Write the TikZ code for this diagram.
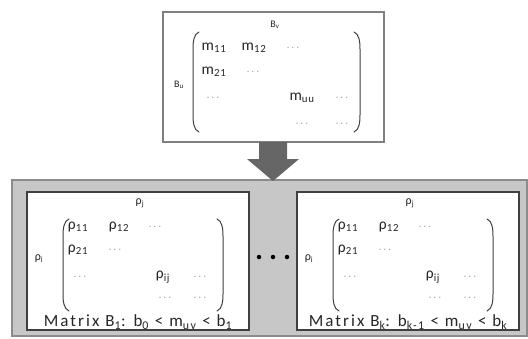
\documentclass[tikz,border=0pt]{standalone}
\usepackage{fontspec}
\setmainfont{Carlito}
\newfontfamily\widefont[LetterSpace=6]{Carlito}
\newfontfamily\capfont[LetterSpace=12]{Carlito}
\usetikzlibrary{calc}

\begin{document}
\begin{tikzpicture}[
        x=1pt, y=-1pt,
        every node/.style={inner sep=0pt},
        frame/.style={draw=black!50, line width=1.6pt, fill=white},
        shade/.style={draw=black!45, fill=black!22, line width=1.2pt},
        panel/.style={draw=black!75, fill=white, line width=1.1pt},
        paren/.style={draw=black!75, line width=1pt, line cap=round},
        entry/.style={font=\widefont\fontsize{15.5}{15.5}\selectfont, text=black!85},
        label/.style={font=\fontsize{12}{12}\selectfont, text=black!85},
        tinylabel/.style={font=\fontsize{10}{10}\selectfont, text=black!85},
        dots/.style={font=\fontsize{11}{11}\selectfont, text=black!55},
        caption/.style={font=\capfont\fontsize{17}{17}\selectfont, text=black!85},
        dot/.style={circle, fill=black, minimum size=4.5pt},
        blockarrow/.style={fill=black!60},
    ]
    \useasboundingbox (0,0) rectangle (528,338);

    % source matrix
    \node[frame, minimum width=221pt, minimum height=130pt] (top) at (273.5,77) {};
    \node[tinylabel] (bv) at (275,25) {B\textsubscript{v}};
    \node[tinylabel] (bu) at (179,85) {B\textsubscript{u}};
    \draw[paren] (199,32) .. controls (194,34) and (193,41) .. (193,49) -- (193,115)
        .. controls (193,123) and (194,130) .. (199,132);
    \draw[paren] (354,32) .. controls (359,34) and (360,41) .. (360,49) -- (360,115)
        .. controls (360,123) and (359,130) .. (354,132);
    \node[entry] (m11) at (214,48) {m\textsubscript{11}};
    \node[entry] (m12) at (254,48) {m\textsubscript{12}};
    \node[dots] (mc1) at (293,48) {$\cdots$};
    \node[entry] (m21) at (214,72) {m\textsubscript{21}};
    \node[dots] (mc2) at (253,72) {$\cdots$};
    \node[dots] (mc3) at (213,98) {$\cdots$};
    \node[entry] (muu) at (302,98) {m\textsubscript{uu}};
    \node[dots] (mc4) at (342,98) {$\cdots$};
    \node[dots] (mc5) at (302,124) {$\cdots$};
    \node[dots] (mc6) at (342,124) {$\cdots$};

    % split matrices
    \node[shade, minimum width=515pt, minimum height=156pt] (outer) at (269.5,258) {};
    \coordinate (tip) at (273,181);
    \fill[blockarrow] (259,142) -- (287,142) -- (287,159) -- (299,159) -- (tip)
        -- (247,159) -- (259,159) -- cycle;

    \foreach \dx/\b in {0/a, 270/b} {
        \node[panel, minimum width=222pt, minimum height=138pt] (box\b) at (138+\dx,261) {};
        \node[label] (rj\b) at (140+\dx,203) {ρ\textsubscript{j}};
        \node[label] (ri\b) at (39+\dx,259) {ρ\textsubscript{i}};
        \draw[paren] (69+\dx,219) .. controls (64+\dx,221) and (63+\dx,228) .. (63+\dx,236)
            -- (63+\dx,294) .. controls (63+\dx,302) and (64+\dx,309) .. (69+\dx,311);
        \draw[paren] (217+\dx,219) .. controls (222+\dx,221) and (223+\dx,228) .. (223+\dx,236)
            -- (223+\dx,294) .. controls (223+\dx,302) and (222+\dx,309) .. (217+\dx,311);
        \node[entry] (p11\b) at (78+\dx,227) {ρ\textsubscript{11}};
        \node[entry] (p12\b) at (119+\dx,227) {ρ\textsubscript{12}};
        \node[dots] (pc1\b) at (155+\dx,227) {$\cdots$};
        \node[entry] (p21\b) at (78+\dx,250) {ρ\textsubscript{21}};
        \node[dots] (pc2\b) at (115+\dx,250) {$\cdots$};
        \node[dots] (pc3\b) at (80+\dx,277) {$\cdots$};
        \node[entry] (pij\b) at (163+\dx,277) {ρ\textsubscript{ij}};
        \node[dots] (pc4\b) at (200+\dx,277) {$\cdots$};
        \node[dots] (pc5\b) at (165+\dx,298) {$\cdots$};
        \node[dots] (pc6\b) at (200+\dx,298) {$\cdots$};
    }
    \node[caption] (capa) at (138,322)
        {Matrix B\textsubscript{1}: b\textsubscript{0} < m\textsubscript{uv} < b\textsubscript{1}};
    \node[caption] (capb) at (408,322)
        {Matrix B\textsubscript{k}: b\textsubscript{k-1} < m\textsubscript{uv} < b\textsubscript{k}};

    \foreach \i/\x in {1/259, 2/273, 3/287}
        \node[dot] (d\i) at (\x,257) {};
\end{tikzpicture}
\end{document}
